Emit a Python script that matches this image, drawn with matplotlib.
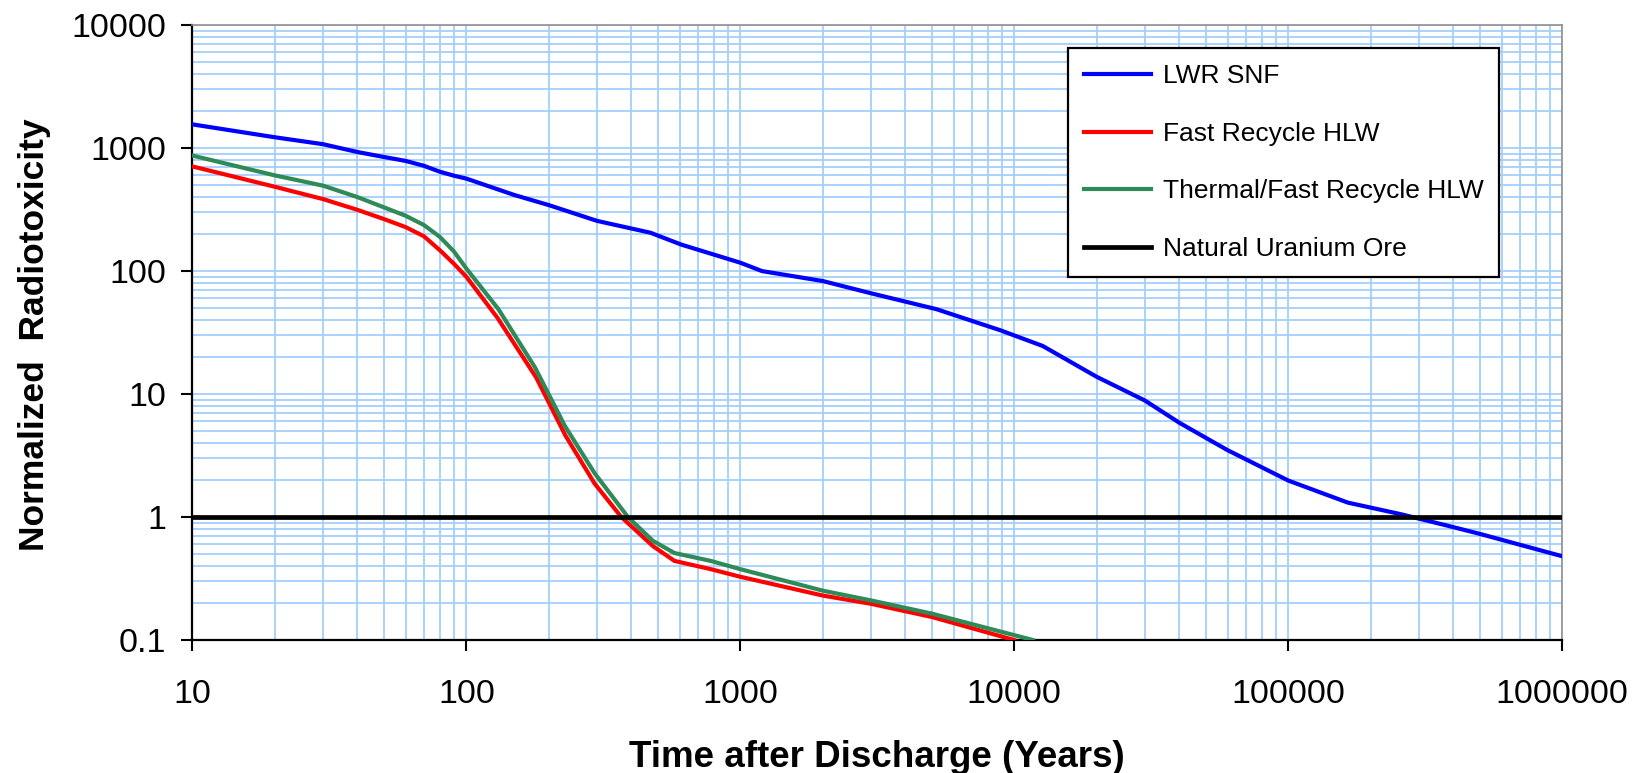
import numpy as np
import matplotlib
matplotlib.use("Agg")
import matplotlib.pyplot as plt
from matplotlib.ticker import LogLocator, NullFormatter

plt.rcParams['font.family'] = ['Liberation Sans', 'DejaVu Sans']

# data
lwr_years = [10, 20, 30, 40, 50, 60, 70, 80, 90, 100, 150, 200, 300, 470, 610,
             1000, 1200, 2000, 3000, 5200, 8900, 12700, 20000, 30000, 40000,
             60000, 100000, 165000, 260000, 390000, 500000, 1000000]
lwr_tox = [1560, 1225, 1076, 930, 847, 787, 718, 643, 597, 565, 415, 344, 256,
           205, 164, 117, 100, 83, 66, 49, 33, 24.6, 13.8, 8.85, 5.85,
           3.5, 1.98, 1.31, 1.05, 0.84, 0.73, 0.48]

fast_years = [10, 20, 30, 40, 50, 60, 70, 80, 90, 100, 130, 180, 230, 294, 368,
              480, 575, 780, 1000, 2000, 3000, 5000, 10000]
fast_tox = [710, 485, 385, 315, 265, 228, 192, 148, 115, 90, 41.6, 13.6, 4.6,
            1.87, 1.0, 0.58, 0.44, 0.377, 0.327, 0.23, 0.197, 0.154, 0.1]

thermal_years = [10, 20, 30, 40, 50, 60, 70, 80, 90, 100, 131, 178, 229, 294,
                 389, 480, 575, 780, 1000, 2000, 3000, 5000, 11700]
thermal_tox = [870, 600, 495, 400, 330, 282, 237, 190, 145, 105, 49, 16.5, 5.5,
               2.27, 1.0, 0.64, 0.51, 0.44, 0.377, 0.252, 0.21, 0.164, 0.1]

ore_years = [10, 1000000]
ore_tox = [1, 1]

xticks = [10, 100, 1000, 10000, 100000, 1000000]
xtick_labels = ['10', '100', '1000', '10000', '100000', '1000000']
yticks = [0.1, 1, 10, 100, 1000, 10000]
ytick_labels = ['0.1', '1', '10', '100', '1000', '10000']

fig = plt.figure(figsize=(16.48, 7.73), dpi=100)
ax = fig.add_axes([0.1167, 0.172, 0.8313, 0.7955])

grid_col = '#a3cffc'
ax.plot(lwr_years, lwr_tox, color='#0000ff', lw=3.0, label='LWR SNF',
        solid_joinstyle='round', zorder=3)
ax.plot(fast_years, fast_tox, color='#ff0000', lw=3.0, label='Fast Recycle HLW',
        solid_joinstyle='round', zorder=3)
ax.plot(thermal_years, thermal_tox, color='#2e8b57', lw=3.0,
        label='Thermal/Fast Recycle HLW', solid_joinstyle='round', zorder=3)
ax.plot(ore_years, ore_tox, color='black', lw=3.4, label='Natural Uranium Ore', zorder=4)

ax.set_xscale('log')
ax.set_yscale('log')
ax.set_xlim(10, 1000000)
ax.set_ylim(0.1, 10000)

ax.set_xticks(xticks)
ax.set_xticklabels(xtick_labels)
ax.set_yticks(yticks)
ax.set_yticklabels(ytick_labels)
ax.xaxis.set_minor_locator(LogLocator(base=10, subs=np.arange(2, 10), numticks=20))
ax.yaxis.set_minor_locator(LogLocator(base=10, subs=np.arange(2, 10), numticks=20))
ax.xaxis.set_minor_formatter(NullFormatter())
ax.yaxis.set_minor_formatter(NullFormatter())

ax.grid(which='both', color=grid_col, lw=1.3, zorder=0)
ax.set_axisbelow(True)

ax.tick_params(which='major', direction='out', length=8, width=1.5,
               labelsize=24.5, colors='black')
ax.tick_params(axis='x', which='major', pad=20)
ax.tick_params(axis='y', which='major', pad=11)
ax.tick_params(which='minor', length=0)

for side in ['left', 'bottom']:
    ax.spines[side].set_color('black')
    ax.spines[side].set_linewidth(1.6)
for side in ['top', 'right']:
    ax.spines[side].set_color('#909090')
    ax.spines[side].set_linewidth(1.2)

ax.set_xlabel('Time after Discharge (Years)', fontsize=26.5, fontweight='bold')
ax.set_ylabel('Normalized  Radiotoxicity', fontsize=25.5, fontweight='bold')
ax.xaxis.set_label_coords(0.5, -0.163)
ax.yaxis.set_label_coords(-0.103, 0.496)

leg = ax.legend(loc='upper left', bbox_to_anchor=(0.639, 0.962), fontsize=19,
                frameon=True, fancybox=False, framealpha=1, edgecolor='black',
                handlelength=2.55, handletextpad=0.45, labelspacing=1.27,
                borderpad=0.6, borderaxespad=0)
leg.get_frame().set_linewidth(1.6)
leg.set_zorder(5)

fig.savefig('out.png', dpi=100, facecolor='white')
